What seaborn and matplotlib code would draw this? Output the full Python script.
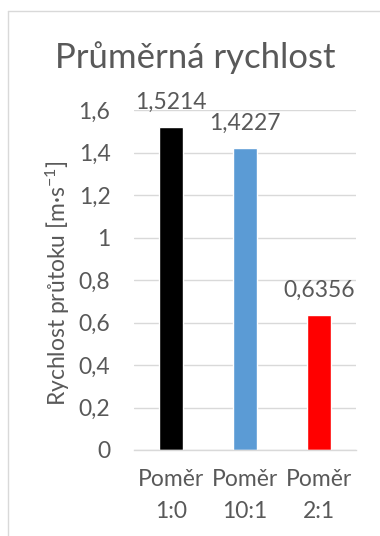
import matplotlib
matplotlib.use("Agg")
import matplotlib.pyplot as plt
from matplotlib.lines import Line2D
import seaborn as sns
import pandas as pd

categories = ["Poměr\n1:0", "Poměr\n10:1", "Poměr\n2:1"]
values = [1.5214, 1.4227, 0.6356]
value_labels = ["1,5214", "1,4227", "0,6356"]
colors = ["#000000", "#5b9bd5", "#ff0000"]
yticks = [0, 0.2, 0.4, 0.6, 0.8, 1.0, 1.2, 1.4, 1.6]
ytick_labels = ["0", "0,2", "0,4", "0,6", "0,8", "1", "1,2", "1,4", "1,6"]
title = "Průměrná rychlost"
ylabel = "Rychlost průtoku [m·s$^{-1}$]"

sns.set_theme(style="white")
plt.rcParams['font.family'] = ['Lato', 'DejaVu Sans']
plt.rcParams['mathtext.fontset'] = 'custom'
plt.rcParams['mathtext.rm'] = 'Lato'
plt.rcParams['mathtext.it'] = 'Lato'
plt.rcParams['mathtext.default'] = 'rm'
TXT = "#595959"
GRID = "#d9d9d9"

df = pd.DataFrame({"cat": categories, "val": values})

fig = plt.figure(figsize=(3.8, 5.36), dpi=100)
ax = fig.add_axes([134/380, 1-450/536, 222/380, 340/536])

sns.barplot(data=df, x="cat", y="val", hue="cat", palette=colors,
            legend=False, width=0.33, ax=ax, saturation=1)

ax.set_xlim(-0.5, 2.5)
ax.set_ylim(0, 1.6)
ax.set_yticks(yticks)
ax.set_yticklabels(ytick_labels)
ax.yaxis.grid(True, color=GRID, lw=1.0)
ax.set_axisbelow(True)
for s in ["top", "right", "left"]:
    ax.spines[s].set_visible(False)
ax.spines["bottom"].set_color(GRID)
ax.spines["bottom"].set_linewidth(1.0)
ax.tick_params(axis="both", length=0, labelsize=16.5, colors=TXT)
ax.tick_params(axis="y", pad=17)
ax.tick_params(axis="x", pad=14)
for t in ax.get_xticklabels():
    t.set_linespacing(1.6)
ax.set_xlabel("")
ax.set_ylabel(ylabel, fontsize=16.5, color=TXT, va="center")
ax.yaxis.set_label_coords((58-134)/222, 0.49)

for i, (v, lab) in enumerate(zip(values, value_labels)):
    ax.annotate(lab, (i, v), xytext=(0, 13), textcoords="offset points",
                ha="center", va="baseline", fontsize=16.5, color=TXT)

fig.text(195/380, 1-68/536, title, ha="center", va="baseline",
         fontsize=25, color=TXT)

fig.add_artist(Line2D([7.5/380, 7.5/380], [0, 1-11/536], color=GRID, lw=1.0,
                      transform=fig.transFigure))
fig.add_artist(Line2D([7.5/380, 1], [1-11/536, 1-11/536], color=GRID, lw=1.0,
                      transform=fig.transFigure))

fig.savefig("out.png", dpi=100)
